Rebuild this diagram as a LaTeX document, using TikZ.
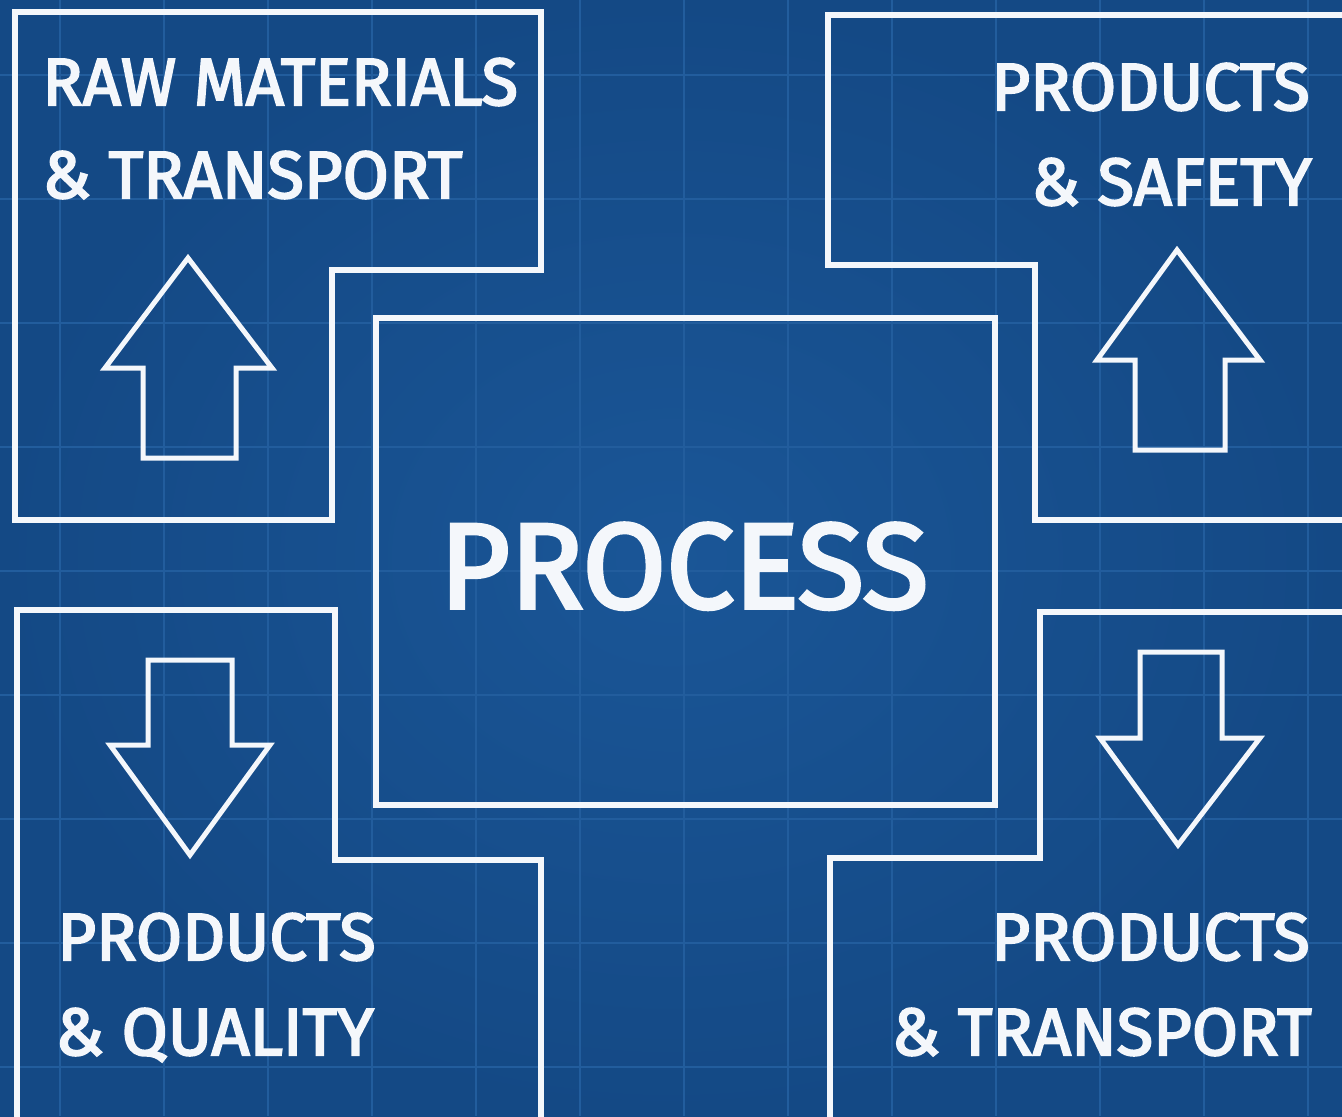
\documentclass[tikz,border=0pt]{standalone}
\usepackage{fontspec}
\setmainfont{Fira Sans}
\newfontfamily\chalkfont{Fira Sans}[FakeBold=3]
\usetikzlibrary{positioning}
\definecolor{C_BGIN} {HTML}{1A5697}
\definecolor{C_BGOUT}{HTML}{144985}
\definecolor{C_GRID} {HTML}{225D9D}
\definecolor{C_CHALK}{HTML}{F4F7FB}
\tikzset{
  %% -- chalk outline of a panel --
  BP/box/.style={draw=C_CHALK, line width=0.12cm, line join=miter},
  %% -- chalk outline of a block arrow --
  BP/arr/.style={draw=C_CHALK, line width=0.1cm, line join=miter},
  %% -- faint blueprint grid --
  BP/grid/.style={draw=C_GRID, line width=0.03cm},
  %% -- panel labels --
  BP/lbl/.style={text=C_CHALK, inner sep=0pt,
    font=\chalkfont\fontsize{38}{46}\selectfont},
  BP/title/.style={text=C_CHALK, inner sep=0pt,
    font=\chalkfont\fontsize{69}{80}\selectfont},
}

\begin{document}
\begin{tikzpicture}[x=0.02cm, y=-0.02cm]
\useasboundingbox (0,0) rectangle (1342,1116);

%% Background and grid
\fill[inner color=C_BGIN, outer color=C_BGOUT] (0,0) rectangle (1342,1116);
\foreach \gx in {60,164,...,1308}
  \draw[BP/grid] (\gx,0) -- (\gx,1116);
\foreach \gy in {75,199,...,1067}
  \draw[BP/grid] (0,\gy) -- (1342,\gy);

%% Panels
\draw[BP/box] (15,12) -- (541,12) -- (541,270) -- (332,270)
  -- (332,520) -- (15,520) -- cycle;
\draw[BP/box] (1360,15) -- (828,15) -- (828,265) -- (1035,265)
  -- (1035,520) -- (1360,520);
\draw[BP/box] (17,1130) -- (17,610) -- (335,610) -- (335,860)
  -- (541,860) -- (541,1130);
\draw[BP/box] (1360,612) -- (1040,612) -- (1040,858) -- (830,858)
  -- (830,1130);
\draw[BP/box] (376,318) rectangle (995,805);

%% Up arrows
\draw[BP/arr] (188,258) -- (272,368) -- (236,368) -- (236,458)
  -- (143,458) -- (143,368) -- (105,368) -- cycle;
\draw[BP/arr] (1177,250) -- (1260,360) -- (1225,360) -- (1225,450)
  -- (1135,450) -- (1135,360) -- (1097,360) -- cycle;

%% Down arrows
\draw[BP/arr] (190,855) -- (270,745) -- (232,745) -- (232,660)
  -- (148,660) -- (148,745) -- (110,745) -- cycle;
\draw[BP/arr] (1178,845) -- (1260,738) -- (1222,738) -- (1222,652)
  -- (1140,652) -- (1140,738) -- (1100,738) -- cycle;

%% Labels
\node[BP/lbl, anchor=base west] (rawA) at (42,105) {RAW MATERIALS};
\node[BP/lbl, anchor=base west] (rawB) at (42,198) {\& TRANSPORT};
\node[BP/lbl, anchor=base east] (safA) at (1310,110) {PRODUCTS};
\node[BP/lbl, anchor=base east] (safB) at (1312,205) {\& SAFETY};
\node[BP/lbl, anchor=base west] (qalA) at (57,960) {PRODUCTS};
\node[BP/lbl, anchor=base west] (qalB) at (55,1055) {\& QUALITY};
\node[BP/lbl, anchor=base east] (trpA) at (1310,960) {PRODUCTS};
\node[BP/lbl, anchor=base east] (trpB) at (1312,1055) {\& TRANSPORT};
\node[BP/title, anchor=base] (proc) at (684,608) {PROCESS};
\end{tikzpicture}
\end{document}
